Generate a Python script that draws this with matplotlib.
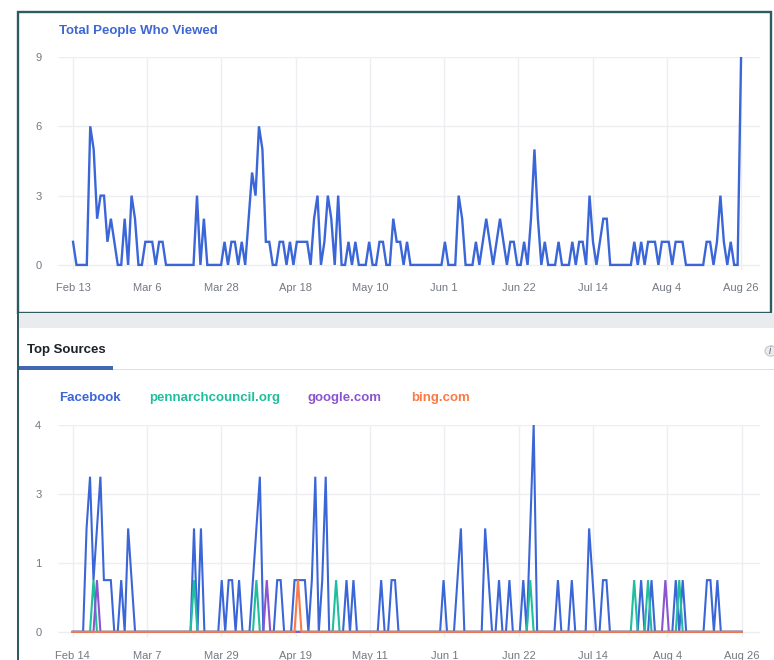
import matplotlib
matplotlib.use("Agg")
import matplotlib.pyplot as plt
from matplotlib.patches import Rectangle, Circle
import numpy as np

W, H = 774, 660

# daily "Total People Who Viewed", Feb 13 .. Aug 26
viewed = [
    1, 0, 0, 0, 0, 6, 5, 2, 3, 3,
    1, 2, 1, 0, 0, 2, 0, 3, 2, 0,
    0, 1, 1, 1, 0, 1, 1, 0, 0, 0,
    0, 0, 0, 0, 0, 0, 3, 0, 2, 0,
    0, 0, 0, 0, 1, 0, 1, 1, 0, 1,
    0, 2, 4, 3, 6, 5, 1, 1, 0, 0,
    1, 1, 0, 1, 0, 1, 1, 1, 1, 0,
    2, 3, 0, 1, 3, 2, 0, 3, 0, 0,
    1, 0, 1, 0, 0, 0, 1, 0, 0, 1,
    1, 0, 0, 2, 1, 1, 0, 1, 0, 0,
    0, 0, 0, 0, 0, 0, 0, 0, 1, 0,
    0, 0, 3, 2, 0, 0, 0, 1, 0, 1,
    2, 1, 0, 1, 2, 1, 0, 1, 1, 0,
    0, 1, 0, 2, 5, 2, 0, 1, 0, 0,
    0, 1, 0, 0, 0, 1, 0, 1, 1, 0,
    3, 1, 0, 1, 2, 2, 0, 0, 0, 0,
    0, 0, 0, 1, 0, 1, 0, 1, 1, 1,
    0, 1, 1, 1, 0, 1, 1, 1, 0, 0,
    0, 0, 0, 0, 1, 1, 0, 1, 3, 1,
    0, 1, 0, 0, 9,
]

# top sources, Feb 14 .. Aug 26
facebook = [
    0, 0, 0, 0, 2, 3, 1, 2, 3, 1,
    1, 1, 0, 0, 1, 0, 2, 1, 0, 0,
    0, 0, 0, 0, 0, 0, 0, 0, 0, 0,
    0, 0, 0, 0, 0, 2, 0, 2, 0, 0,
    0, 0, 0, 1, 0, 1, 1, 0, 1, 0,
    0, 0, 1, 2, 3, 0, 0, 0, 0, 1,
    1, 0, 0, 0, 1, 1, 1, 1, 0, 1,
    3, 0, 1, 3, 0, 0, 0, 0, 0, 1,
    0, 1, 0, 0, 0, 0, 0, 0, 0, 1,
    0, 0, 1, 1, 0, 0, 0, 0, 0, 0,
    0, 0, 0, 0, 0, 0, 0, 1, 0, 0,
    0, 1, 2, 0, 0, 0, 0, 0, 0, 2,
    1, 0, 0, 1, 0, 0, 1, 0, 0, 0,
    1, 0, 2, 4, 0, 0, 0, 0, 0, 0,
    1, 0, 0, 0, 1, 0, 0, 0, 0, 2,
    1, 0, 0, 1, 1, 0, 0, 0, 0, 0,
    0, 0, 0, 0, 1, 0, 0, 1, 0, 0,
    0, 0, 0, 0, 1, 0, 1, 0, 0, 0,
    0, 0, 0, 1, 1, 0, 1, 0, 0, 0,
    0, 0, 0, 0,
]
pennarch = [
    0, 0, 0, 0, 0, 0, 1, 0, 0, 0,
    0, 0, 0, 0, 0, 0, 0, 0, 0, 0,
    0, 0, 0, 0, 0, 0, 0, 0, 0, 0,
    0, 0, 0, 0, 0, 1, 0, 0, 0, 0,
    0, 0, 0, 0, 0, 0, 0, 0, 0, 0,
    0, 0, 0, 1, 0, 0, 0, 0, 0, 0,
    0, 0, 0, 0, 0, 0, 0, 0, 0, 0,
    0, 0, 0, 0, 0, 0, 1, 0, 0, 0,
    0, 0, 0, 0, 0, 0, 0, 0, 0, 0,
    0, 0, 0, 0, 0, 0, 0, 0, 0, 0,
    0, 0, 0, 0, 0, 0, 0, 0, 0, 0,
    0, 0, 0, 0, 0, 0, 0, 0, 0, 0,
    0, 0, 0, 0, 0, 0, 0, 0, 0, 0,
    0, 0, 1, 0, 0, 0, 0, 0, 0, 0,
    0, 0, 0, 0, 0, 0, 0, 0, 0, 0,
    0, 0, 0, 0, 0, 0, 0, 0, 0, 0,
    0, 0, 1, 0, 0, 0, 1, 0, 0, 0,
    0, 0, 0, 0, 0, 1, 0, 0, 0, 0,
    0, 0, 0, 0, 0, 0, 0, 0, 0, 0,
    0, 0, 0, 0,
]
google = [
    0, 0, 0, 0, 0, 0, 0, 1, 0, 0,
    0, 0, 0, 0, 0, 0, 0, 0, 0, 0,
    0, 0, 0, 0, 0, 0, 0, 0, 0, 0,
    0, 0, 0, 0, 0, 0, 0, 0, 0, 0,
    0, 0, 0, 0, 0, 0, 0, 0, 0, 0,
    0, 0, 0, 0, 0, 0, 1, 0, 0, 0,
    0, 0, 0, 0, 0, 0, 0, 0, 0, 0,
    0, 0, 0, 0, 0, 0, 0, 0, 0, 0,
    0, 0, 0, 0, 0, 0, 0, 0, 0, 0,
    0, 0, 0, 0, 0, 0, 0, 0, 0, 0,
    0, 0, 0, 0, 0, 0, 0, 0, 0, 0,
    0, 0, 0, 0, 0, 0, 0, 0, 0, 0,
    0, 0, 0, 0, 0, 0, 0, 0, 0, 0,
    0, 0, 0, 0, 0, 0, 0, 0, 0, 0,
    0, 0, 0, 0, 0, 0, 0, 0, 0, 0,
    0, 0, 0, 0, 0, 0, 0, 0, 0, 0,
    0, 0, 0, 0, 0, 0, 0, 0, 0, 0,
    0, 1, 0, 0, 0, 0, 0, 0, 0, 0,
    0, 0, 0, 0, 0, 0, 0, 0, 0, 0,
    0, 0, 0, 0,
]
bing = [
    0, 0, 0, 0, 0, 0, 0, 0, 0, 0,
    0, 0, 0, 0, 0, 0, 0, 0, 0, 0,
    0, 0, 0, 0, 0, 0, 0, 0, 0, 0,
    0, 0, 0, 0, 0, 0, 0, 0, 0, 0,
    0, 0, 0, 0, 0, 0, 0, 0, 0, 0,
    0, 0, 0, 0, 0, 0, 0, 0, 0, 0,
    0, 0, 0, 0, 0, 1, 0, 0, 0, 0,
    0, 0, 0, 0, 0, 0, 0, 0, 0, 0,
    0, 0, 0, 0, 0, 0, 0, 0, 0, 0,
    0, 0, 0, 0, 0, 0, 0, 0, 0, 0,
    0, 0, 0, 0, 0, 0, 0, 0, 0, 0,
    0, 0, 0, 0, 0, 0, 0, 0, 0, 0,
    0, 0, 0, 0, 0, 0, 0, 0, 0, 0,
    0, 0, 0, 0, 0, 0, 0, 0, 0, 0,
    0, 0, 0, 0, 0, 0, 0, 0, 0, 0,
    0, 0, 0, 0, 0, 0, 0, 0, 0, 0,
    0, 0, 0, 0, 0, 0, 0, 0, 0, 0,
    0, 0, 0, 0, 0, 0, 0, 0, 0, 0,
    0, 0, 0, 0, 0, 0, 0, 0, 0, 0,
    0, 0, 0, 0,
]

top_xlabels = ["Feb 13", "Mar 6", "Mar 28", "Apr 18", "May 10",
               "Jun 1", "Jun 22", "Jul 14", "Aug 4", "Aug 26"]
bottom_xlabels = ["Feb 14", "Mar 7", "Mar 29", "Apr 19", "May 11",
                  "Jun 1", "Jun 22", "Jul 14", "Aug 4", "Aug 26"]
top_yticks = [0, 3, 6, 9]
bottom_ylabels = ["0", "1", "3", "4"]

sources = ["Facebook", "pennarchcouncil.org", "google.com", "bing.com"]
source_colors = ["#3b66d8", "#1fbe9c", "#8a55cf", "#fb7a45"]
source_label_x = [59, 149, 308, 411]

TITLE_BLUE = "#3f67d3"
GRID = "#eceef1"
TICK = "#737882"

plt.rcParams["font.family"] = ["Liberation Sans", "DejaVu Sans"]

fig = plt.figure(figsize=(W / 100, H / 100), dpi=100)


def frac(x0, y0, x1, y1):
    # pixel box, origin top-left -> figure fraction [l, b, w, h]
    return [x0 / W, 1 - y1 / H, (x1 - x0) / W, (y1 - y0) / H]


def rect(x0, y0, x1, y1, z=-5, **kw):
    l, b, w, h = frac(x0, y0, x1, y1)
    fig.add_artist(Rectangle((l, b), w, h, transform=fig.transFigure,
                             zorder=z, **kw))


# page frame (kept behind the axes)
rect(18, 12, 771, 313, facecolor="white", edgecolor="#2d5a63", lw=1.7)
rect(19, 313, 774, 328, facecolor="#e9ebee", edgecolor="none")
rect(17.2, 313, 18.9, 660, facecolor="#2d5a63", edgecolor="none")
rect(19, 369, 774, 370.2, facecolor="#dddfe2", edgecolor="none")
rect(19, 366, 113, 369.5, facecolor="#4267b2", edgecolor="none")
fig.add_artist(Circle((771 / W, 1 - 351 / H), 6 / W, transform=fig.transFigure,
                      facecolor="#e9ebee", edgecolor="#c4c7cc", lw=0.8))
fig.text(770 / W, 1 - 351 / H, "i", fontsize=7, color="#606770",
         style="italic", ha="center", va="center")

fig.text(59 / W, 1 - 31 / H, "Total People Who Viewed", color=TITLE_BLUE,
         fontsize=9.5, fontweight="bold", va="center")
fig.text(27 / W, 1 - 350 / H, "Top Sources", color="#1d2129",
         fontsize=9.5, fontweight="bold", va="center")
for name, col, x in zip(sources, source_colors, source_label_x):
    fig.text(x / W, 1 - 398 / H, name, color=col, fontsize=9.5,
             fontweight="bold", va="center")


def style(ax, n, labels, pad_x):
    ax.set_facecolor("none")
    ax.set_xticks(np.linspace(0, n - 1, 10))
    ax.set_xticklabels(labels)
    ax.grid(True, color=GRID, lw=1)
    ax.set_axisbelow(True)
    for s in ax.spines.values():
        s.set_visible(False)
    ax.tick_params(length=0, colors=TICK, labelsize=8)
    ax.tick_params(axis="y", pad=12)
    ax.tick_params(axis="x", pad=pad_x)


# top chart
ax1 = fig.add_axes(frac(58, 57, 760, 270))
days1 = np.arange(len(viewed))
ax1.plot(days1, viewed, color=source_colors[0], lw=1.7, solid_joinstyle="miter")
ax1.set_xlim(-4.36, len(viewed) - 1 + 5.5)
ax1.set_ylim(-0.22, 9)
ax1.set_yticks(top_yticks)
style(ax1, len(viewed), top_xlabels, 9)

# bottom chart
ax2 = fig.add_axes(frac(58, 425, 760, 637))
days2 = np.arange(len(facebook))
for vals, col in zip([facebook, pennarch, google, bing], source_colors):
    ax2.plot(days2, vals, color=col, lw=1.5, solid_joinstyle="miter")
ax2.set_xlim(-4.24, len(facebook) - 1 + 5.3)
ax2.set_ylim(-0.1, 4)
ax2.set_yticks(np.linspace(0, 4, 4))
ax2.set_yticklabels(bottom_ylabels)
style(ax2, len(facebook), bottom_xlabels, 10)

fig.savefig("out.png", dpi=100)
